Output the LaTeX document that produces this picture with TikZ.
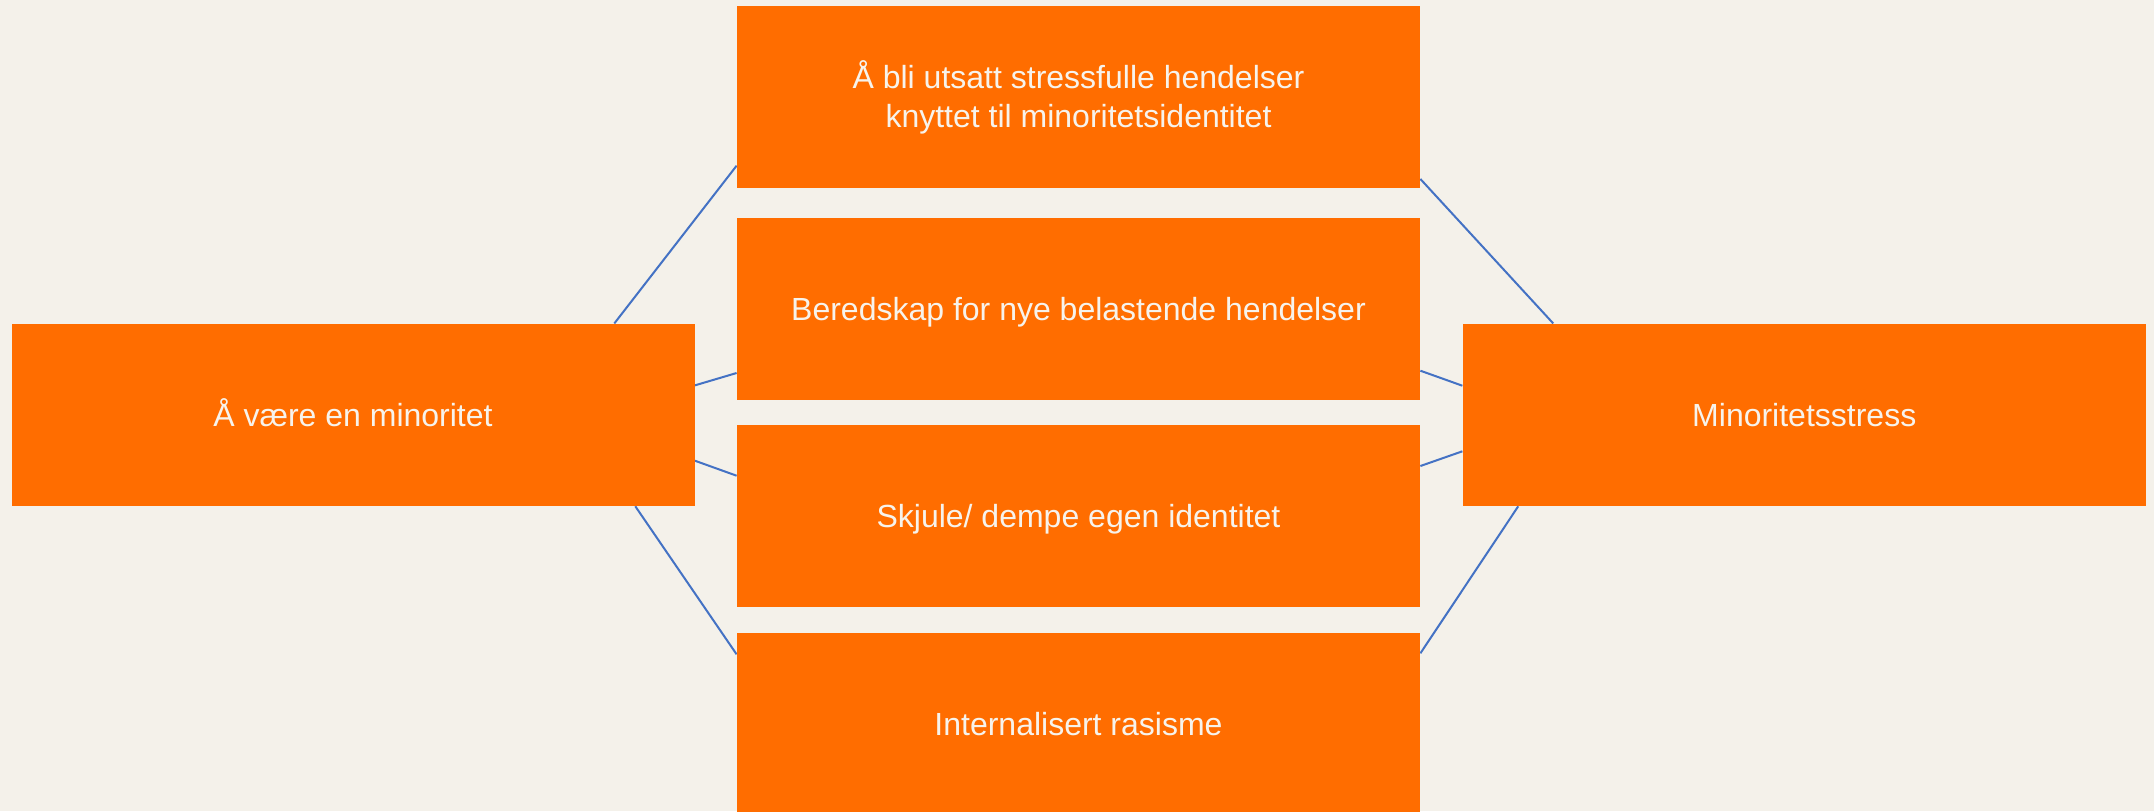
\documentclass[tikz,border=0pt]{standalone}
\usepackage{fontspec}
\setmainfont{Liberation Sans}
\usetikzlibrary{calc}
\definecolor{bgcol}{HTML}{F4F1EA}
\definecolor{boxcol}{HTML}{FF6D00}
\definecolor{linecol}{HTML}{4472C4}
\definecolor{txtcol}{HTML}{F7F3EC}
\pgfdeclarelayer{bglayer}
\pgfdeclarelayer{linelayer}
\pgfsetlayers{bglayer,linelayer,main}
\begin{document}
\begin{tikzpicture}[x=0.5pt,y=-0.5pt,
  box/.style={fill=boxcol, draw=none, inner sep=0pt, minimum width=341.5pt, minimum height=91pt,
    text=txtcol, align=center, font=\fontsize{16pt}{19.7pt}\selectfont,
    text height=11.8pt, text depth=0pt},
  twoline/.style={text height=31pt},
  conn/.style={draw=linecol, line width=1pt}]
\begin{pgfonlayer}{bglayer}
  \fill[bgcol] (0,0) rectangle (2154,811);
\end{pgfonlayer}
\useasboundingbox (0,0) rectangle (2154,811);

\node[box] (L)  at (353,414.85)   {Å være en minoritet};
\node[box,twoline] (B1) at (1078.5,96.7)  {Å bli utsatt stressfulle hendelser\\knyttet til minoritetsidentitet};
\node[box] (B2) at (1078.5,309)   {Beredskap for nye belastende hendelser};
\node[box] (B3) at (1078.5,516)   {Skjule/ dempe egen identitet};
\node[box] (B4) at (1078.5,724)   {Internalisert rasisme};
\node[box] (R)  at (1804.25,414.85) {Minoritetsstress};

\begin{pgfonlayer}{linelayer}
  \draw[conn] ($(L.north)+(261.3,0)$) -- ($(B1.west)+(0,69)$);
  \draw[conn] ($(L.east)+(0,-29.5)$) -- ($(B2.west)+(0,64)$);
  \draw[conn] ($(L.east)+(0,45.85)$) -- ($(B3.west)+(0,-40.3)$);
  \draw[conn] ($(L.south)+(282.3,0)$) -- ($(B4.west)+(0,-69.7)$);
  \draw[conn] ($(B1.east)+(0,82.3)$) -- ($(R.north)+(-251,0)$);
  \draw[conn] ($(B2.east)+(0,61.7)$) -- ($(R.west)+(0,-29.15)$);
  \draw[conn] ($(B3.east)+(0,-50)$) -- ($(R.west)+(0,36.45)$);
  \draw[conn] ($(B4.east)+(0,-70.7)$) -- ($(R.south)+(-286,0)$);
\end{pgfonlayer}
\end{tikzpicture}
\end{document}
